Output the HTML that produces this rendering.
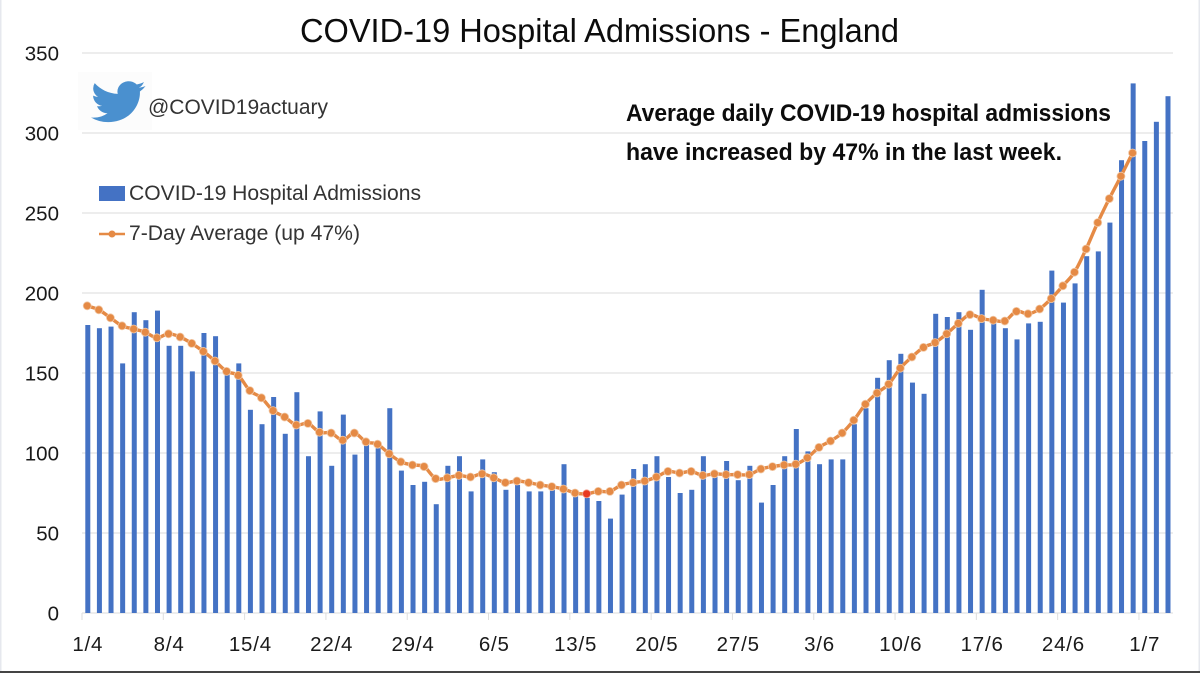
<!DOCTYPE html>
<html lang="en">
<head>
<meta charset="utf-8">
<title>COVID-19 Hospital Admissions - England</title>
<style>
html,body{margin:0;padding:0;background:#fff;}
#chart{display:block;width:1200px;height:673px;font-family:"Liberation Sans",sans-serif;}
text{fill:#1a1a1a;}
</style>
</head>
<body>
<svg id="chart" xmlns="http://www.w3.org/2000/svg" width="1200" height="673" viewBox="0 0 1200 673">
  <rect x="0" y="0" width="1200" height="673" fill="#ffffff"/>
  <rect x="0" y="0" width="1.5" height="673" fill="#e6e8ee"/>
  <rect x="1198.5" y="0" width="1.5" height="673" fill="#e6e8ee"/>
  <rect x="0" y="671" width="1200" height="2" fill="#444444"/>
  <g id="grid"></g>
  <g id="ticks"></g>
  <g id="bars"></g>
  <path id="avg-line" fill="none" stroke="#e58a45" stroke-width="3.4" stroke-linejoin="round" stroke-linecap="round"/>
  <g id="points"></g>
  <g id="y-labels"></g>
  <g id="x-labels"></g>

  <text x="300" y="42" font-size="33" textLength="599" lengthAdjust="spacingAndGlyphs" style="fill:#0c0c0c">COVID-19 Hospital Admissions - England</text>

  <g>
    <rect x="78" y="72" width="74" height="58" fill="#fcfcfc"/>
    <path transform="translate(91 76.5) scale(2.27 2.1)" fill="#4a90cf" d="M23.953 4.57a10 10 0 01-2.825.775 4.958 4.958 0 002.163-2.723c-.951.555-2.005.959-3.127 1.184a4.92 4.92 0 00-8.384 4.482C7.69 8.095 4.067 6.13 1.64 3.162a4.822 4.822 0 00-.666 2.475c0 1.71.87 3.213 2.188 4.096a4.904 4.904 0 01-2.228-.616v.06a4.923 4.923 0 003.946 4.827 4.996 4.996 0 01-2.212.085 4.936 4.936 0 004.604 3.417 9.867 9.867 0 01-6.102 2.105c-.39 0-.779-.023-1.17-.067a13.995 13.995 0 007.557 2.209c9.053 0 13.998-7.496 13.998-13.985 0-.21 0-.42-.015-.63A9.935 9.935 0 0024 4.59z"/>
    <text x="148" y="114" font-size="21" textLength="180" lengthAdjust="spacingAndGlyphs" style="fill:#333">@COVID19actuary</text>
  </g>

  <g>
    <g>
      <rect x="99" y="186" width="26" height="15" fill="#4472c4"/>
      <text x="129" y="200" font-size="21" textLength="292" lengthAdjust="spacingAndGlyphs" style="fill:#333">COVID-19 Hospital Admissions</text>
    </g>
    <g>
      <line x1="99" y1="234" x2="125" y2="234" stroke="#e58a45" stroke-width="2.5"/>
      <circle cx="112" cy="234" r="3.5" fill="#e58a45"/>
      <text x="129" y="240" font-size="21" textLength="231" lengthAdjust="spacingAndGlyphs" style="fill:#333">7-Day Average (up 47%)</text>
    </g>
  </g>

  <g>
    <text x="626" y="121" font-size="24" font-weight="bold" textLength="485" lengthAdjust="spacingAndGlyphs" style="fill:#0c0c0c">Average daily COVID-19 hospital admissions</text>
    <text x="626" y="160" font-size="24" font-weight="bold" textLength="436" lengthAdjust="spacingAndGlyphs" style="fill:#0c0c0c">have increased by 47% in the last week.</text>
  </g>
</svg>
<script>
const categories = ['1/4','2/4','3/4','4/4','5/4','6/4','7/4','8/4','9/4','10/4','11/4','12/4','13/4','14/4','15/4','16/4','17/4','18/4','19/4','20/4','21/4','22/4','23/4','24/4','25/4','26/4','27/4','28/4','29/4','30/4','1/5','2/5','3/5','4/5','5/5','6/5','7/5','8/5','9/5','10/5','11/5','12/5','13/5','14/5','15/5','16/5','17/5','18/5','19/5','20/5','21/5','22/5','23/5','24/5','25/5','26/5','27/5','28/5','29/5','30/5','31/5','1/6','2/6','3/6','4/6','5/6','6/6','7/6','8/6','9/6','10/6','11/6','12/6','13/6','14/6','15/6','16/6','17/6','18/6','19/6','20/6','21/6','22/6','23/6','24/6','25/6','26/6','27/6','28/6','29/6','30/6','1/7','2/7','3/7'];
const admissions = [180,178,179,156,188,183,189,167,167,151,175,173,149,156,127,118,135,112,138,98,126,92,124,99,105,103,128,89,80,82,68,92,98,76,96,88,77,80,76,76,77,93,73,72,70,59,74,90,93,98,85,75,77,98,85,95,83,92,69,80,98,115,101,93,96,96,118,128,147,158,162,144,137,187,185,188,177,202,181,178,171,181,182,214,194,206,223,226,244,283,331,295,307,323];
const sevenDayAverage = [192,189.5,184.5,179.5,177.5,175.5,172,174.5,172.5,168.5,163.5,157.5,151,148.5,139,134.5,126.5,122.5,117.5,118.5,113,112.5,108,112.5,107,105.5,99.5,94.5,92.5,91.5,84,84.5,86,85,87,84.5,81.5,82.5,81.5,80,79,77.5,75,74.5,76,76,80,81.5,82.5,85,88.5,87.5,88.5,86,87,86.5,86.5,86.5,90,91.5,92.5,93,97,103.5,107.5,112.5,120.5,130.5,137.5,143,153,160,166,169,174.5,181,186.5,184,183,182.5,188.5,187,190,196.5,204.5,213,227.5,244,259,273,287.5];
const yTicks = [0,50,100,150,200,250,300,350];
const highlightedCategory = '14/5';
const tickEvery = 7;

const SVG_NS = 'http://www.w3.org/2000/svg';
const yScale = v => 613 - v * 1.6;
const xBand = i => 82 + i * 11.615;
const xCenter = i => xBand(i) + 5.8;
const barWidth = 5;

function make(tag, parentId, attrs, content) {
  const el = document.createElementNS(SVG_NS, tag);
  for (const k in attrs) el.setAttribute(k, attrs[k]);
  if (content !== undefined) el.textContent = content;
  document.getElementById(parentId).appendChild(el);
  return el;
}

yTicks.forEach(v => {
  const g = make('line', 'grid', {x1: 82, x2: 1173, y1: yScale(v), y2: yScale(v), stroke: '#e2e2e2', 'stroke-width': 1.3});
  
  
  const t = make('text', 'y-labels', {x: 59, y: yScale(v) + 7.5, 'text-anchor': 'end', 'font-size': 20.5}, String(v));
  
  
});

categories.forEach((c, i) => {
  if (i % tickEvery === 0) {
    const tick = make('line', 'ticks', {x1: xBand(i), x2: xBand(i), y1: 613, y2: 620, stroke: '#dedede', 'stroke-width': 1});
    
    
    const lab = make('text', 'x-labels', {x: xCenter(i), y: 651, 'text-anchor': 'middle', 'font-size': 20.5, 'letter-spacing': 0.8}, c);
    
    
  }
});

admissions.forEach((v, i) => {
  const bar = make('rect', 'bars', {x: xCenter(i) - barWidth / 2, y: yScale(v), width: barWidth, height: 613 - yScale(v), fill: '#4472c4'});
  
  
});

const linePts = sevenDayAverage.map((v, i) => [xCenter(i) - 0.6, yScale(v)]);
let linePath = 'M' + linePts[0][0].toFixed(1) + ' ' + linePts[0][1].toFixed(1);
for (let i = 0; i < linePts.length - 1; i++) {
  const p0 = linePts[Math.max(i - 1, 0)], p1 = linePts[i], p2 = linePts[i + 1], p3 = linePts[Math.min(i + 2, linePts.length - 1)];
  const c1x = p1[0] + (p2[0] - p0[0]) / 6, c1y = p1[1] + (p2[1] - p0[1]) / 6;
  const c2x = p2[0] - (p3[0] - p1[0]) / 6, c2y = p2[1] - (p3[1] - p1[1]) / 6;
  linePath += 'C' + c1x.toFixed(1) + ' ' + c1y.toFixed(1) + ' ' + c2x.toFixed(1) + ' ' + c2y.toFixed(1) + ' ' + p2[0].toFixed(1) + ' ' + p2[1].toFixed(1);
}
document.getElementById('avg-line').setAttribute('d', linePath);

sevenDayAverage.forEach((v, i) => {
  const isHighlight = categories[i] === highlightedCategory;
  const pt = make('circle', 'points', {cx: xCenter(i) - 0.6, cy: yScale(v), r: 4, fill: isHighlight ? '#e8391f' : '#e58a45', stroke: isHighlight ? '#f3a08f' : '#f1c8a6', 'stroke-width': 0.8});
  
  
});
</script>
</body>
</html>
